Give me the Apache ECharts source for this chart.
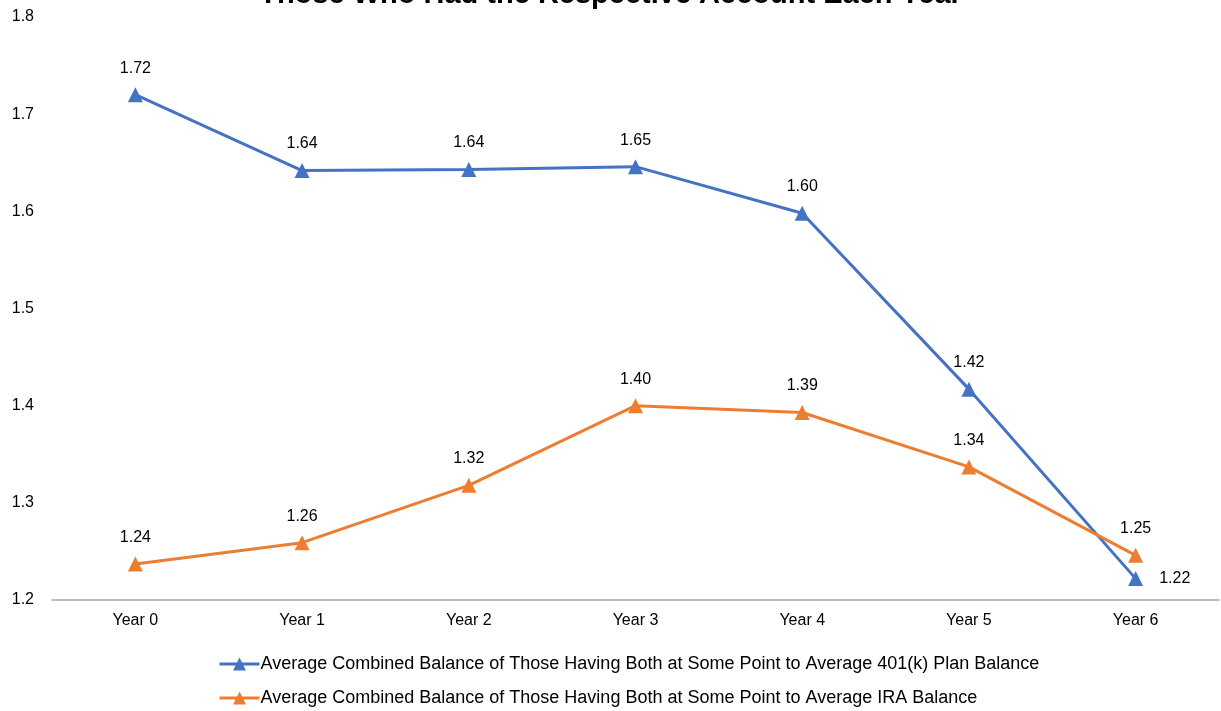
<!DOCTYPE html>
<html>
<head>
<meta charset="utf-8">
<script src="https://cdn.jsdelivr.net/npm/echarts@6/dist/echarts.min.js"></script>
<style>
  html, body { margin: 0; padding: 0; background: #fff; }
  #chart { width: 1221px; height: 711px; }
</style>
</head>
<body>
<div id="chart"></div>
<script>
// Year categories along the x axis
const years = ['Year 0', 'Year 1', 'Year 2', 'Year 3', 'Year 4', 'Year 5', 'Year 6'];

// Ratio of combined balance to 401(k) balance
const ratio401k = [1.720, 1.642, 1.643, 1.646, 1.598, 1.417, 1.222];

// Ratio of combined balance to IRA balance
const ratioIRA = [1.237, 1.259, 1.318, 1.400, 1.393, 1.337, 1.246];

// Y axis range and step
const yMin = 1.2, yMax = 1.8, yStep = 0.1;

const seriesNames = [
  'Average Combined Balance of Those Having Both at Some Point to Average 401(k) Plan Balance',
  'Average Combined Balance of Those Having Both at Some Point to Average IRA Balance'
];

const font = 'Liberation Sans, Arial, sans-serif';
const chart = echarts.init(document.getElementById('chart'));

function lineSeries(name, data, color, lastLabelRight) {
  return {
    name: name,
    type: 'line',
    data: data.map((v, i) => {
      const item = { value: v };
      if (lastLabelRight && i === data.length - 1) {
        item.label = { position: 'right', distance: 16 };
      }
      return item;
    }),
    symbol: 'triangle',
    symbolSize: 15,
    lineStyle: { width: 3, color: color },
    itemStyle: { color: color },
    label: {
      show: true,
      position: 'top',
      distance: 11,
      color: '#000',
      fontFamily: font,
      fontSize: 16,
      formatter: p => p.value.toFixed(2)
    },
    emphasis: { disabled: true },
    z: 3
  };
}

function legendRow(name, top) {
  return {
    orient: 'horizontal',
    left: 218,
    top: top,
    padding: 0,
    itemWidth: 40,
    itemHeight: 16,
    lineStyle: { width: 3 },
    textStyle: { color: '#000', fontFamily: font, fontSize: 18, padding: [0, 0, 0, -4] },
    data: [name]
  };
}

chart.setOption({
  animation: false,
  title: {
    text: 'Those Who Had the Respective Account Each Year',
    left: 'center',
    top: -25,
    textStyle: { fontFamily: font, fontSize: 29, fontWeight: 'bold', color: '#000' }
  },
  grid: {
    left: 52, right: 2, top: 17, bottom: 111,
    containLabel: false,
    outerBoundsMode: 'none'
  },
  xAxis: {
    type: 'category',
    data: years,
    boundaryGap: true,
    axisLine: { lineStyle: { color: '#a6a6a6', width: 1.5 } },
    axisTick: { show: false },
    axisLabel: { color: '#000', fontFamily: font, fontSize: 16, margin: 13 }
  },
  yAxis: {
    type: 'value',
    min: yMin,
    max: yMax,
    interval: yStep,
    axisLine: { show: false },
    axisTick: { show: false },
    splitLine: { show: false },
    axisLabel: {
      color: '#000', fontFamily: font, fontSize: 16, margin: 18,
      formatter: v => v.toFixed(1)
    }
  },
  legend: [
    legendRow(seriesNames[0], 655),
    legendRow(seriesNames[1], 689)
  ],
  series: [
    lineSeries(seriesNames[0], ratio401k, '#4472C4', true),
    lineSeries(seriesNames[1], ratioIRA, '#ED7D31', false)
  ]
});
</script>
</body>
</html>
